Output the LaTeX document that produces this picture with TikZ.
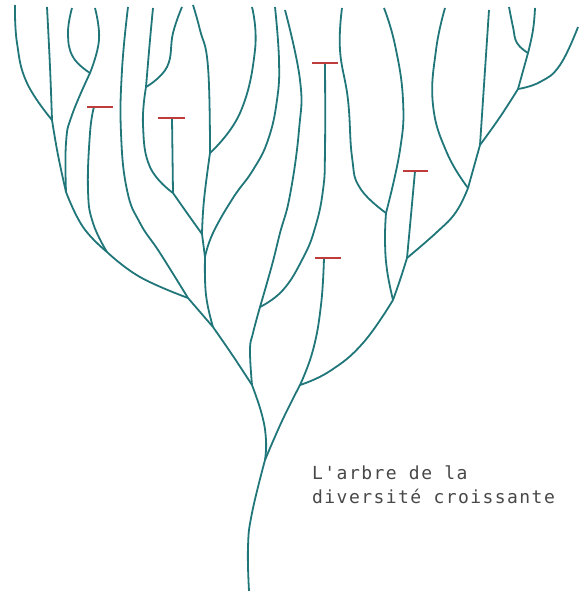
\documentclass[tikz,border=0pt]{standalone}
\usepackage{fontspec}
\newfontfamily\labelfont[LetterSpace=8]{DejaVu Sans Mono}
\definecolor{branch}{RGB}{32,118,121}
\definecolor{barred}{RGB}{190,60,60}
\definecolor{labelgray}{RGB}{72,72,72}
\begin{document}
\begin{tikzpicture}[x=1pt,y=-1pt,
  limb/.style={draw=branch,line width=1.8pt,line join=round},
  tipbar/.style={draw=barred,line width=2.8pt},
  labeltext/.style={text=labelgray,inner sep=0pt,font=\labelfont\fontsize{18}{24}\selectfont}]
\useasboundingbox (0,0) rectangle (578,591);
% branching points
\coordinate (R) at (249,591);
\coordinate (N1) at (265,460);
\coordinate (N2) at (300,385);
\coordinate (N3) at (252,385);
\coordinate (N4) at (393,300);
\coordinate (N5) at (386,213);
\coordinate (N6) at (407,258);
\coordinate (N7) at (468,188);
\coordinate (N8) at (480,145);
\coordinate (N9) at (518,89);
\coordinate (N10) at (528,53);
\coordinate (N11) at (260,307);
\coordinate (N12) at (213,327);
\coordinate (N13) at (188,298);
\coordinate (N14) at (107,252);
\coordinate (N15) at (202,234);
\coordinate (N16) at (173,193);
\coordinate (N17) at (210,153);
\coordinate (N18) at (205,257);
\coordinate (N19) at (52,120);
\coordinate (N20) at (90,73);
\coordinate (N21) at (66,192);
\coordinate (N22) at (146,87);
% extinct tips
\coordinate (T1) at (324,258);
\coordinate (T2) at (415,171);
\coordinate (T3) at (325,63);
\coordinate (T4) at (172,118);
\coordinate (T5) at (94,107);
% living tips
\coordinate (O) at (15,5);
\coordinate (P) at (47,7);
\coordinate (Q) at (72,8);
\coordinate (S) at (95,8);
\coordinate (Nn) at (128,7);
\coordinate (J) at (153,8);
\coordinate (K) at (182,7);
\coordinate (L) at (193,5);
\coordinate (M) at (252,7);
\coordinate (I) at (275,7);
\coordinate (H) at (285,10);
\coordinate (A) at (342,8);
\coordinate (B) at (384,8);
\coordinate (C) at (445,8);
\coordinate (D) at (489,10);
\coordinate (F) at (509,7);
\coordinate (G) at (535,8);
\coordinate (E) at (578,27);

\tikzset{sm/.style={smooth,tension=0.75}}
\draw[limb] plot[sm] coordinates {(R) (248,547) (252,513) (N1)};
\draw[limb] plot[sm] coordinates {(N1) (266,440) (262,415) (N3)};
\draw[limb] plot[sm] coordinates {(N1) (282,421) (N2)};
\draw[limb] plot[sm] coordinates {(N2) (313,350) (321,305) (T1)};
\draw[limb] plot[sm] coordinates {(N2) (330,371) (363,343) (N4)};
\draw[limb] plot[sm] coordinates {(N4) (387,270) (385,240) (N5)};
\draw[limb] plot[sm] coordinates {(N4) (400,280) (N6)};
\draw[limb] plot[sm] coordinates {(N6) (411,215) (T2)};
\draw[limb] plot[sm] coordinates {(N6) (437,232) (456,212) (N7)};
\draw[limb] plot[sm] coordinates {(N5) (360,188) (352,157) (348,100) (340,50) (A)};
\draw[limb] plot[sm] coordinates {(N5) (400,150) (403,100) (395,45) (B)};
\draw[limb] plot[sm] coordinates {(N7) (447,153) (433,105) (436,50) (C)};
\draw[limb] (N7) -- (N8);
\draw[limb] plot[sm] coordinates {(N8) (485,70) (D)};
\draw[limb] plot[sm] coordinates {(N8) (500,117) (N9)};
\draw[limb] plot[sm] coordinates {(N9) (540,82) (560,65) (E)};
\draw[limb] (N9) -- (N10);
\draw[limb] plot[sm] coordinates {(N10) (517,43) (513,27) (F)};
\draw[limb] plot[sm] coordinates {(N10) (533,30) (G)};
\draw[limb] plot[sm] coordinates {(N3) (250,350) (253,333) (N11)};
\draw[limb] plot[sm] coordinates {(N11) (283,290) (303,258) (315,228) (323,190) (325,150) (T3)};
\draw[limb] plot[sm] coordinates {(N11) (272,265) (280,233) (290,195) (299,130) (300,80) (H)};
\draw[limb] plot[sm] coordinates {(N3) (233,356) (N12)};
\draw[limb] (N12) -- (N13);
\draw[limb] plot[sm] coordinates {(N12) (206,295) (N18)};
\draw[limb] (N18) -- (N15);
\draw[limb] plot[sm] coordinates {(N18) (213,233) (233,198) (253,170) (268,140) (277,100) (279,60) (I)};
\draw[limb] plot[sm] coordinates {(N15) (204,200) (N17)};
\draw[limb] plot[sm] coordinates {(N15) (187,213) (N16)};
\draw[limb] (N16) -- (T4);
\draw[limb] plot[sm] coordinates {(N16) (150,167) (143,125) (N22)};
\draw[limb] plot[sm] coordinates {(N22) (150,40) (J)};
\draw[limb] plot[sm] coordinates {(N22) (167,67) (173,33) (K)};
\draw[limb] plot[sm] coordinates {(N17) (208,67) (200,30) (L)};
\draw[limb] plot[sm] coordinates {(N17) (240,113) (255,50) (M)};
\draw[limb] plot[sm] coordinates {(N13) (140,277) (N14)};
\draw[limb] plot[sm] coordinates {(N13) (160,253) (140,223) (127,190) (121,133) (122,70) (Nn)};
\draw[limb] plot[sm] coordinates {(N14) (83,227) (N21)};
\draw[limb] plot[sm] coordinates {(N14) (93,223) (88,190) (90,133) (T5)};
\draw[limb] plot[sm] coordinates {(N21) (58,155) (N19)};
\draw[limb] plot[sm] coordinates {(N21) (66,143) (72,115) (N20)};
\draw[limb] plot[sm] coordinates {(N19) (27,83) (17,43) (O)};
\draw[limb] plot[sm] coordinates {(N19) (50,67) (P)};
\draw[limb] plot[sm] coordinates {(N20) (73,57) (68,33) (Q)};
\draw[limb] plot[sm] coordinates {(N20) (99,40) (S)};

% extinction bars
\draw[tipbar] ([xshift=-9pt]T1) -- ([xshift=17pt]T1);
\draw[tipbar] ([xshift=-12pt]T2) -- ([xshift=13pt]T2);
\draw[tipbar] ([xshift=-13pt]T3) -- ([xshift=13pt]T3);
\draw[tipbar] ([xshift=-14pt]T4) -- ([xshift=13pt]T4);
\draw[tipbar] ([xshift=-7pt]T5) -- ([xshift=19pt]T5);

\node[labeltext,anchor=base west] (title1) at (312,479) {L'arbre de la};
\node[labeltext,anchor=base west] (title2) at (312,503) {diversité croissante};
\end{tikzpicture}
\end{document}
